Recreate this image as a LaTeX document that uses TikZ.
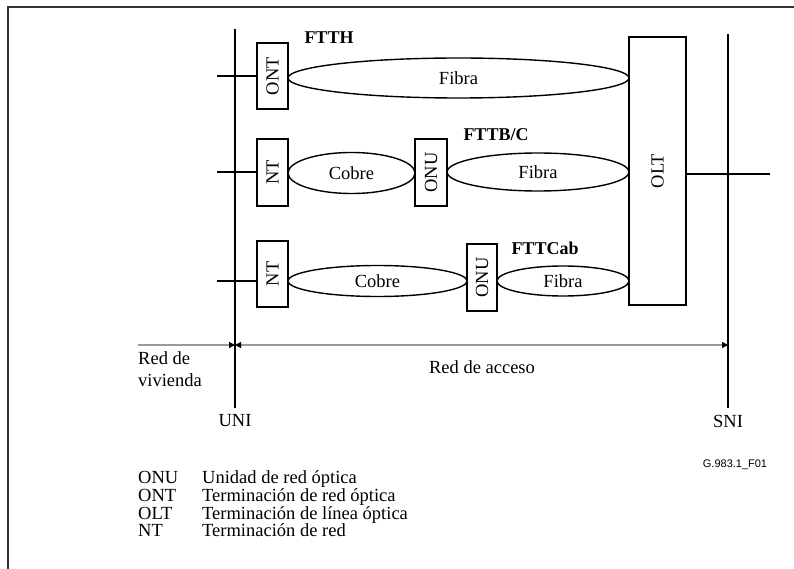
\documentclass[tikz,border=0pt]{standalone}
\usepackage{fontspec}
\setmainfont{Liberation Serif}
\newfontfamily\labsans{Liberation Sans}
\usepackage{graphicx}
\usetikzlibrary{shapes.geometric,arrows.meta}
\begin{document}
\begin{tikzpicture}[x=1pt,y=-1pt,
  every node/.style={font=\fontsize{18.5}{20}\selectfont, inner sep=0pt},
  wire/.style={line width=1.4pt, draw=black},
  box/.style={draw, line width=1.4pt, rectangle, inner sep=0pt},
  link/.style={draw, ellipse, line width=1.4pt, inner sep=0pt},
  tag/.style={font=\fontsize{18}{20}\selectfont\bfseries},
  dim/.style={line width=1.3pt, draw=black!40},
  tipr/.style={-{Triangle[length=6pt,width=6pt,color=black]}},
  tipb/.style={{Triangle[length=6pt,width=6pt,color=black]}-{Triangle[length=6pt,width=6pt,color=black]}},
  legab/.style={anchor=base west},
]
\useasboundingbox (0,0) rectangle (794,569);
\draw[line width=2pt, black!80] (794,7) -- (8,7) -- (8,569);

% interface lines
\coordinate (uniT) at (235,29);
\coordinate (uniB) at (235,408);
\coordinate (sniT) at (728,34);
\coordinate (sniB) at (728,408);
\draw[wire] (uniT) -- (uniB);
\draw[wire] (sniT) -- (sniB);

% boxes
\node[box, minimum width=31pt, minimum height=66pt] (ont) at (272.5,76) {\rotatebox{90}{ONT}};
\node[box, minimum width=31pt, minimum height=67pt] (nta) at (272.5,172.5) {\rotatebox{90}{NT}};
\node[box, minimum width=32pt, minimum height=67pt] (onua) at (431,172.5) {\rotatebox{90}{ONU}};
\node[box, minimum width=31pt, minimum height=66pt] (ntb) at (272.5,274) {\rotatebox{90}{NT}};
\node[box, minimum width=30pt, minimum height=67pt] (onub) at (482,277.5) {\rotatebox{90}{ONU}};
\node[box, minimum width=57pt, minimum height=268pt] (olt) at (657.5,171) {\rotatebox{90}{OLT}};

% links (ellipses)
\node[link, minimum width=341pt, minimum height=40pt] (fib1) at (458.5,78) {Fibra};
\node[link, minimum width=127pt, minimum height=41pt] (cob1) at (351.5,173) {Cobre};
\node[link, minimum width=182pt, minimum height=38pt] (fib2) at (538,172) {Fibra};
\node[link, minimum width=179pt, minimum height=31pt] (cob2) at (377.5,281) {Cobre};
\node[link, minimum width=132pt, minimum height=30pt] (fib3) at (563,281) {Fibra};

% stubs
\coordinate (s1) at (217,76);
\coordinate (s2) at (217,172);
\coordinate (s3) at (217,281);
\coordinate (so) at (770,174);
\draw[wire] (s1) -- (s1 -| ont.west);
\draw[wire] (s2) -- (s2 -| nta.west);
\draw[wire] (s3) -- (s3 -| ntb.west);
\draw[wire] (so -| olt.east) -- (so);

% titles
\node[tag] (tH) at (329,38) {FTTH};
\node[tag] (tB) at (496,135) {FTTB/C};
\node[tag] (tC) at (545,248) {FTTCab};

% dimension arrows
\coordinate (aL) at (138,345);
\coordinate (aU) at (235,345);
\coordinate (aS) at (728,345);
\draw[dim, tipr] (aL) -- (aU);
\draw[dim, tipb] (aU) -- (aS);

\node[anchor=north west, align=left, font=\fontsize{18.5}{22}\selectfont] (rv) at (138,351) {Red de\\vivienda};
\node (ra) at (482,367) {Red de acceso};
\node (uni) at (235,421) {UNI};
\node (sni) at (728,421) {SNI};
\node[font=\labsans\fontsize{11}{12}\selectfont] (fig) at (735,465) {G.983.1\_F01};

% legend
\node[legab] (l1a) at (138,483) {ONU};
\node[legab] (l1b) at (202,483) {Unidad de red óptica};
\node[legab] (l2a) at (138,501) {ONT};
\node[legab] (l2b) at (202,501) {Terminación de red óptica};
\node[legab] (l3a) at (138,519) {OLT};
\node[legab] (l3b) at (202,519) {Terminación de línea óptica};
\node[legab] (l4a) at (138,536) {NT};
\node[legab] (l4b) at (202,536) {Terminación de red};
\end{tikzpicture}
\end{document}
